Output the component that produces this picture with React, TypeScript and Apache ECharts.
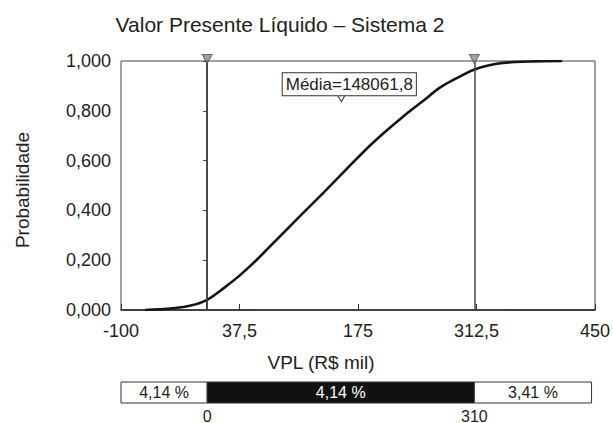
import React, { useEffect, useRef } from 'react';
import * as echarts from 'echarts';

// Cumulative probability curve (VPL in R$ mil, probability)
const curveX = [-72, -40, -20, 0, 20, 37.5, 57, 85, 112, 131, 160, 193, 232, 250, 270, 293, 310, 336, 375, 412];
const curveP = [0, 0.007, 0.017, 0.041, 0.09, 0.138, 0.2, 0.298, 0.392, 0.457, 0.56, 0.674, 0.79, 0.838, 0.893, 0.937, 0.966, 0.989, 0.998, 1.0];
const xTickValues = [-100, 37.5, 175, 312.5, 450];
const cutoffs = [0, 310];
const segmentEdges = [-100, 0, 310, 446];
const segmentLabels = ['4,14 %', '4,14 %', '3,41 %'];
const meanValue = 148061.8;
const meanMarker = [155.6, 0.849];

const FONT = '"Liberation Sans", Arial, Helvetica, sans-serif';

export default function App() {
  const ref = useRef<HTMLDivElement>(null);
  useEffect(() => {
    if (!ref.current) return;
    const chart = echarts.init(ref.current, undefined, { renderer: 'svg' });
    const fmt = (v: number) => String(v).replace('.', ',');
    const segData = segmentLabels.map((lab, i) => [segmentEdges[i], segmentEdges[i + 1], i]);
    chart.setOption({
      animation: false,
      backgroundColor: '#fff',
      textStyle: { fontFamily: FONT },
      grid: [
        { left: 121, right: 18, top: 61, bottom: 113, outerBoundsMode: 'none', containLabel: false, show: true, borderColor: '#444', borderWidth: 1, backgroundColor: 'transparent' },
        { left: 121, right: 18, top: 382, height: 21, outerBoundsMode: 'none', containLabel: false },
      ],
      xAxis: [
        {
          type: 'value', gridIndex: 0, min: -100, max: 450,
          axisLine: { show: true, lineStyle: { color: '#222', width: 1.5 } },
          axisTick: { show: true, inside: true, length: 6, customValues: xTickValues, lineStyle: { color: '#333' } },
          axisLabel: { customValues: xTickValues, formatter: (v: number) => fmt(v), fontSize: 18, color: '#222', margin: 12, fontFamily: FONT },
          splitLine: { show: false },
        },
        {
          type: 'value', gridIndex: 1, min: -100, max: 450,
          axisLine: { show: false }, axisTick: { show: false },
          axisLabel: { customValues: cutoffs, formatter: (v: number) => fmt(v), fontSize: 16, color: '#222', margin: 5, fontFamily: FONT },
          splitLine: { show: false },
        },
      ],
      yAxis: [
        {
          type: 'value', gridIndex: 0, min: 0, max: 1, interval: 0.2,
          axisLine: { show: true, lineStyle: { color: '#222', width: 1.5 } },
          axisTick: { show: true, length: 4, lineStyle: { color: '#444' } },
          axisLabel: { formatter: (v: number) => v.toFixed(3).replace('.', ','), fontSize: 18, color: '#222', margin: 10, fontFamily: FONT },
          splitLine: { show: false },
        },
        { type: 'value', gridIndex: 1, min: 0, max: 1, show: false },
      ],
      series: [
        {
          type: 'line', xAxisIndex: 0, yAxisIndex: 0,
          data: curveX.map((x, i) => [x, curveP[i]]),
          smooth: 0.4, showSymbol: false, symbol: 'none',
          lineStyle: { color: '#151515', width: 2.6 },
          markLine: {
            silent: true, symbol: 'none', label: { show: false },
            lineStyle: { color: '#444', width: 1.5, type: 'solid' },
            data: cutoffs.map((c) => ({ xAxis: c })),
          },
          markPoint: {
            data: [{
              coord: meanMarker, symbol: 'triangle', symbolRotate: 180, symbolSize: [7, 6],
              itemStyle: { color: '#fff', borderColor: '#333', borderWidth: 1 },
            }],
            label: {
              show: true, position: 'top', distance: 0, offset: [8, 0],
              formatter: () => 'Média=' + fmt(meanValue),
              fontSize: 17, color: '#222', fontFamily: FONT,
              backgroundColor: '#fff', borderColor: '#333', borderWidth: 1, padding: [2, 3, 1, 3], lineHeight: 19,
            },
          },
        },
        {
          type: 'scatter', xAxisIndex: 0, yAxisIndex: 0, clip: false,
          data: cutoffs.map((c) => [c, 1]),
          symbol: 'triangle', symbolRotate: 180, symbolSize: [10, 9], symbolOffset: [0, -2],
          itemStyle: { color: '#888', borderColor: '#555', borderWidth: 1 },
          silent: true, z: 5,
        },
        {
          type: 'custom', xAxisIndex: 1, yAxisIndex: 1, clip: false,
          data: segData,
          renderItem: (params: any, api: any) => {
            const p0 = api.coord([api.value(0), 1]);
            const p1 = api.coord([api.value(1), 0]);
            const idx = api.value(2);
            const dark = idx === 1;
            return {
              type: 'group',
              children: [
                {
                  type: 'rect',
                  shape: { x: p0[0], y: p0[1], width: p1[0] - p0[0], height: p1[1] - p0[1] },
                  style: { fill: dark ? '#111' : '#fff', stroke: '#333', lineWidth: 1 },
                },
                {
                  type: 'text',
                  x: (p0[0] + p1[0]) / 2, y: (p0[1] + p1[1]) / 2,
                  style: { text: segmentLabels[idx], fill: dark ? '#fff' : '#222', fontSize: 16, fontFamily: FONT, align: 'center', verticalAlign: 'middle' },
                },
              ],
            };
          },
        },
      ],
      graphic: [
        { type: 'text', x: 280, y: 24, style: { text: 'Valor Presente Líquido – Sistema 2', fontSize: 21, fontFamily: FONT, fill: '#222', textAlign: 'center', textVerticalAlign: 'middle' } },
        { type: 'text', x: 321, y: 362, style: { text: 'VPL (R$ mil)', fontSize: 19, fontFamily: FONT, fill: '#222', textAlign: 'center', textVerticalAlign: 'middle' } },
        { type: 'text', x: 22, y: 190, rotation: Math.PI / 2, style: { text: 'Probabilidade', fontSize: 19, fontFamily: FONT, fill: '#222', textAlign: 'center', textVerticalAlign: 'middle' } },
      ],
    });
    return () => chart.dispose();
  }, []);
  return <div ref={ref} style={{ width: 613, height: 423, position: 'absolute', left: 0, top: 0 }} />;
}
